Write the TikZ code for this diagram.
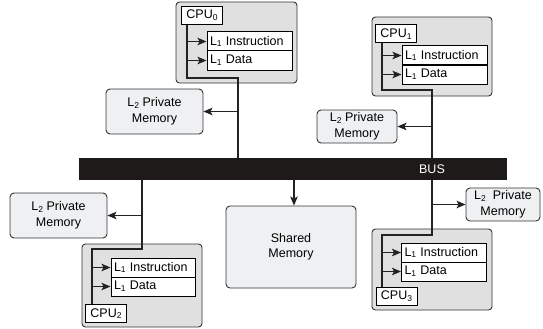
\documentclass[tikz,border=0pt]{standalone}
\usepackage{fontspec}
\setmainfont{Liberation Sans}
\usetikzlibrary{arrows.meta}
\definecolor{blkfill}{HTML}{E0E0E0}
\definecolor{memfill}{HTML}{EEF0F2}
\definecolor{edge}{HTML}{333333}
\definecolor{wirec}{HTML}{222222}
\definecolor{busc}{HTML}{1E1A1A}
\newcommand\lsub[1]{\raisebox{-0.25ex}{\fontsize{8.5}{8.5}\selectfont #1}}
\begin{document}
\begin{tikzpicture}[x=1pt,y=-1pt, font=\fontsize{12.5}{15.5}\selectfont,
 blk/.style={draw=edge, fill=blkfill, rounded corners=3.5pt, line width=0.9pt, inner sep=0pt},
 mem/.style={draw=edge, fill=memfill, rounded corners=4pt, line width=0.9pt, inner sep=0pt, align=center},
 cache/.style={draw=black, fill=white, line width=1pt, inner xsep=3pt, inner ysep=0pt, text width=79pt, align=left, minimum height=19pt},
 cpulbl/.style={draw=black, fill=white, line width=1pt, inner sep=0pt, minimum width=41pt, minimum height=18pt},
 wire/.style={draw=wirec, line width=1.2pt},
 arr/.style={wire, -{Stealth[length=9pt,width=7.5pt,inset=2pt]}}]
\path[use as bounding box] (0,0) rectangle (543,329);

% bus
\node[fill=busc, minimum width=428pt, minimum height=22pt, inner sep=0pt] (bus) at (293,169) {};
\node[text=white] (bustxt) at (432,169) {BUS};

% CPU0
\node[blk, minimum width=121pt, minimum height=81pt] (blk0) at (236.5,42.5) {};
\node[cpulbl] (cpu0) at (202,15.5) {CPU\lsub{0}};
\node[cache] (l1i0) at (249.5,41.5) {L\lsub{1} Instruction};
\node[cache] (l1d0) at (249.5,60.5) {L\lsub{1} Data};
\coordinate (v0) at (187,78);
\coordinate (t0) at (238,78);
\draw[wire] (cpu0.south -| v0) -- (v0) -- (t0) -- (t0 |- bus.north);
\draw[arr] (v0 |- l1i0.west) -- (l1i0.west);
\draw[arr] (v0 |- l1d0.west) -- (l1d0.west);
\node[mem, minimum width=97pt, minimum height=45pt] (l2a) at (154.5,111.5) {L\lsub{2} Private\\Memory};
\draw[arr] (t0 |- l2a.east) -- (l2a.east);

% CPU1
\node[blk, minimum width=120pt, minimum height=79pt] (blk1) at (432,56.5) {};
\node[cpulbl] (cpu1) at (396,34) {CPU\lsub{1}};
\node[cache] (l1i1) at (444.5,55.5) {L\lsub{1} Instruction};
\node[cache] (l1d1) at (444.5,74.5) {L\lsub{1} Data};
\coordinate (v1) at (382,90);
\coordinate (t1) at (432,90);
\draw[wire] (cpu1.south -| v1) -- (v1) -- (t1) -- (t1 |- bus.north);
\draw[arr] (v1 |- l1i1.west) -- (l1i1.west);
\draw[arr] (v1 |- l1d1.west) -- (l1d1.west);
\node[mem, minimum width=80pt, minimum height=33pt] (l2b) at (357,126.5) {L\lsub{2} Private\\Memory};
\draw[arr] (t1 |- l2b.east) -- (l2b.east);

% CPU3
\node[blk, minimum width=120pt, minimum height=81pt] (blk3) at (432,269.5) {};
\node[cache] (l1i3) at (444,252.5) {L\lsub{1} Instruction};
\node[cache] (l1d3) at (444,271.5) {L\lsub{1} Data};
\node[cpulbl] (cpu3) at (396.5,296) {CPU\lsub{3}};
\coordinate (t3) at (432,235);
\coordinate (v3) at (382,235);
\draw[wire] (t3 |- bus.south) -- (t3) -- (v3) -- (v3 |- cpu3.north);
\draw[arr] (v3 |- l1i3.west) -- (l1i3.west);
\draw[arr] (v3 |- l1d3.west) -- (l1d3.west);
\node[mem, minimum width=74pt, minimum height=33pt] (l2d) at (503,204.5) {L\lsub{2}\ \ Private\\Memory};
\draw[arr] (t3 |- l2d.west) -- (l2d.west);

% CPU2
\node[blk, minimum width=120pt, minimum height=83pt] (blk2) at (142,285.5) {};
\node[cache, text width=78pt] (l1i2) at (153,267.5) {L\lsub{1} Instruction};
\node[cache, text width=78pt] (l1d2) at (153,286.5) {L\lsub{1} Data};
\node[cpulbl] (cpu2) at (106,313.5) {CPU\lsub{2}};
\coordinate (t2) at (142,249);
\coordinate (v2) at (92,249);
\draw[wire] (t2 |- bus.south) -- (t2) -- (v2) -- (v2 |- cpu2.north);
\draw[arr] (v2 |- l1i2.west) -- (l1i2.west);
\draw[arr] (v2 |- l1d2.west) -- (l1d2.west);
\node[mem, minimum width=97pt, minimum height=45pt] (l2c) at (58.5,215.5) {L\lsub{2} Private\\Memory};
\draw[arr] (t2 |- l2c.east) -- (l2c.east);

% shared memory
\node[mem, minimum width=130pt, minimum height=82pt] (shm) at (291,247) {Shared\\Memory};
\coordinate (sm) at (294,0);
\draw[arr] (bus.south -| sm) -- (shm.north -| sm);
\end{tikzpicture}
\end{document}
